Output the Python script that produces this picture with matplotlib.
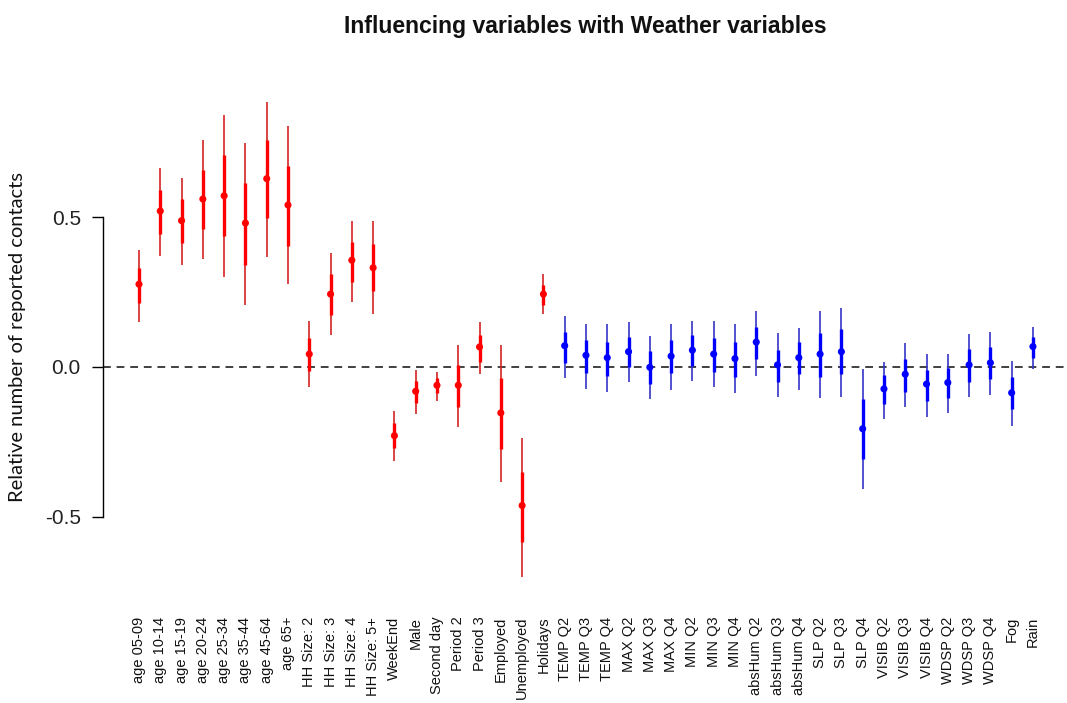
import matplotlib
matplotlib.use("Agg")
import matplotlib.pyplot as plt
import numpy as np

# coefficient estimates, inner (thick) and outer (thin) intervals
labels = ["age 05-09", "age 10-14", "age 15-19", "age 20-24", "age 25-34", "age 35-44",
          "age 45-64", "age 65+", "HH Size: 2", "HH Size: 3", "HH Size: 4", "HH Size: 5+",
          "WeekEnd", "Male", "Second day", "Period 2", "Period 3", "Employed", "Unemployed",
          "Holidays",
          "TEMP Q2", "TEMP Q3", "TEMP Q4", "MAX Q2", "MAX Q3", "MAX Q4", "MIN Q2", "MIN Q3",
          "MIN Q4", "absHum Q2", "absHum Q3", "absHum Q4", "SLP Q2", "SLP Q3", "SLP Q4",
          "VISIB Q2", "VISIB Q3", "VISIB Q4", "WDSP Q2", "WDSP Q3", "WDSP Q4", "Fog", "Rain"]

estimate = [0.276, 0.520, 0.488, 0.560, 0.571, 0.480, 0.628, 0.540, 0.043, 0.243, 0.356, 0.331,
            -0.229, -0.081, -0.061, -0.061, 0.067, -0.153, -0.462, 0.243,
            0.071, 0.039, 0.031, 0.051, -0.001, 0.036, 0.056, 0.043, 0.028, 0.083, 0.007,
            0.031, 0.043, 0.051, -0.206, -0.073, -0.024, -0.057, -0.052, 0.007, 0.014,
            -0.086, 0.068]

thin_hi = [0.390, 0.662, 0.631, 0.756, 0.840, 0.748, 0.883, 0.803, 0.154, 0.379, 0.487, 0.487,
           -0.147, -0.010, -0.016, 0.073, 0.149, 0.073, -0.236, 0.310,
           0.170, 0.142, 0.142, 0.149, 0.104, 0.142, 0.154, 0.154, 0.142, 0.187, 0.114,
           0.129, 0.187, 0.198, -0.008, 0.018, 0.079, 0.042, 0.042, 0.110, 0.118,
           0.020, 0.134]
thin_lo = [0.151, 0.371, 0.339, 0.360, 0.299, 0.207, 0.368, 0.276, -0.068, 0.107, 0.216, 0.176,
           -0.313, -0.158, -0.113, -0.201, -0.024, -0.384, -0.699, 0.176,
           -0.036, -0.073, -0.084, -0.049, -0.108, -0.077, -0.046, -0.068, -0.088, -0.029,
           -0.101, -0.077, -0.104, -0.101, -0.408, -0.173, -0.132, -0.166, -0.152, -0.099,
           -0.093, -0.197, -0.008]

thick_hi = [0.329, 0.590, 0.559, 0.656, 0.707, 0.614, 0.756, 0.670, 0.098, 0.310, 0.418, 0.411,
            -0.186, -0.047, -0.038, 0.007, 0.107, -0.038, -0.351, 0.273,
            0.118, 0.090, 0.084, 0.101, 0.053, 0.090, 0.107, 0.098, 0.082, 0.134, 0.057,
            0.082, 0.114, 0.127, -0.108, -0.027, 0.026, -0.010, -0.004, 0.059, 0.068,
            -0.032, 0.101]
thick_lo = [0.212, 0.443, 0.412, 0.460, 0.436, 0.340, 0.496, 0.403, -0.012, 0.173, 0.284, 0.253,
            -0.271, -0.119, -0.088, -0.132, 0.018, -0.273, -0.582, 0.207,
            0.014, -0.019, -0.029, 0.001, -0.057, -0.021, 0.003, -0.018, -0.032, 0.026,
            -0.049, -0.024, -0.032, -0.024, -0.308, -0.124, -0.082, -0.112, -0.104, -0.049,
            -0.040, -0.141, 0.029]

n_personal = 20  # first 20 are personal variables (red), rest weather (blue)

plt.rcParams["font.family"] = ["Liberation Sans", "DejaVu Sans"]

fig = plt.figure(figsize=(10.67, 7.03), dpi=100)
ax = fig.add_axes([103 / 1067, 103 / 703, 964 / 1067, 520 / 703])

x = np.arange(1, len(labels) + 1)
point_col = ["#ff0000"] * n_personal + ["#0000ff"] * (len(labels) - n_personal)
thin_col = ["#d42424"] * n_personal + ["#3535c8"] * (len(labels) - n_personal)

ax.axhline(0, color="#404040", lw=1.4, ls=(0, (4, 3)), zorder=1)
ax.vlines(x, thin_lo, thin_hi, colors=thin_col, lw=1.2, zorder=2)
ax.vlines(x, thick_lo, thick_hi, colors=point_col, lw=2.4, zorder=3)
ax.scatter(x, estimate, c=point_col, s=26, marker="o", zorder=4, linewidths=0)

ax.set_xlim(-0.691, 44.60)
ax.set_ylim(-0.777, 0.957)

for side in ["top", "right", "bottom"]:
    ax.spines[side].set_visible(False)
ax.spines["left"].set_bounds(-0.5, 0.5)
ax.spines["left"].set_linewidth(1.0)

ax.set_yticks([-0.5, 0.0, 0.5])
ax.set_yticklabels(["-0.5", "0.0", "0.5"], fontsize=15, color="#222222")
ax.tick_params(axis="y", length=8, width=1.0, pad=8)

ax.set_xticks(x)
ax.set_xticklabels(labels, rotation=90, fontsize=10.5, color="#111111")
ax.tick_params(axis="x", length=0, pad=12)

fig.text(585.5 / 1067, 1 - 27 / 703, "Influencing variables with Weather variables",
         ha="center", va="center", fontsize=16.6, fontweight="bold", color="#111111")
fig.text(18 / 1067, 1 - 337 / 703, "Relative number of reported contacts",
         rotation=90, ha="center", va="center", fontsize=14.5, family=["Lato", "DejaVu Sans"],
         color="#111111")

fig.savefig("out.png", dpi=100)
